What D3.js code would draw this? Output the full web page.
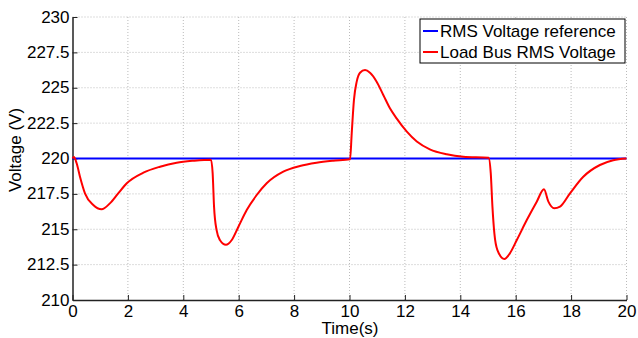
<!DOCTYPE html>
<html>
<head>
<meta charset="utf-8">
<script src="https://cdn.jsdelivr.net/npm/d3@7"></script>
<style>
  body { margin: 0; background: #fff; }
  svg { display: block; font-family: "Liberation Sans", Arial, sans-serif; }
</style>
</head>
<body>
<div id="chart"></div>
<script>
// Time (s) and voltage (V)
const refTime = [0, 20];
const refVolt = [220, 220];

const loadTime = [0, 0.05, 0.15, 0.27, 0.45, 0.75, 1.05, 1.35, 1.65, 1.96, 2.56, 3.16, 3.76, 4.36, 5.0,
  5.06, 5.11, 5.2, 5.32, 5.54, 5.75, 5.99, 6.29, 6.65, 7.01, 7.61, 8.21, 8.81, 9.41, 10.02,
  10.08, 10.16, 10.26, 10.38, 10.56, 10.74, 10.98, 11.22, 11.46, 11.7, 12.07, 12.43, 12.9, 13.51, 14.11, 15.02,
  15.1, 15.16, 15.23, 15.34, 15.59, 15.79, 16.04, 16.4, 16.76, 17.02,
  17.18, 17.39, 17.6, 17.96, 18.44, 19.04, 19.52, 20];
const loadVolt = [220, 220.1, 219.66, 218.71, 217.54, 216.71, 216.41, 216.83, 217.54, 218.25, 219.0, 219.42, 219.7, 219.84, 219.92,
  218.95, 216.6, 214.95, 214.24, 213.9, 214.24, 215.18, 216.36, 217.42, 218.25, 219.07, 219.47, 219.7, 219.84, 219.94,
  221.78, 224.13, 225.43, 226.06, 226.25, 226.06, 225.43, 224.49, 223.55, 222.84, 221.9, 221.2, 220.65, 220.3, 220.13, 220.06,
  218.95, 216.6, 214.71, 213.53, 212.9, 213.3, 214.24, 215.65, 216.95, 217.82,
  216.95, 216.48, 216.6, 217.54, 218.71, 219.54, 219.88, 220];

const xTicks = [0, 2, 4, 6, 8, 10, 12, 14, 16, 18, 20];
const yTicks = [210, 212.5, 215, 217.5, 220, 222.5, 225, 227.5, 230];

const seriesNames = ["RMS Voltage reference", "Load Bus RMS Voltage"];
const seriesColors = ["#0000ff", "#ff0000"];

const W = 638, H = 338;
const margin = { top: 17, right: 11.5, bottom: 38, left: 72.5 };
const width = W - margin.left - margin.right;
const height = H - margin.top - margin.bottom;
const fontSize = "17px";

const svg = d3.select("#chart").append("svg")
  .attr("width", W).attr("height", H);
const g = svg.append("g")
  .attr("transform", "translate(" + margin.left + "," + margin.top + ")");

const x = d3.scaleLinear().domain([0, 20]).range([0, width]);
const y = d3.scaleLinear().domain([210, 230]).range([height, 0]);

// dotted grid
g.append("g").selectAll("line").data(xTicks.slice(1)).enter().append("line")
  .attr("x1", d => x(d)).attr("x2", d => x(d))
  .attr("y1", 0).attr("y2", height)
  .attr("stroke", "#bbb").attr("stroke-width", 1).attr("stroke-dasharray", "1,2");
g.append("g").selectAll("line").data(yTicks.slice(1)).enter().append("line")
  .attr("x1", 0).attr("x2", width)
  .attr("y1", d => y(d)).attr("y2", d => y(d))
  .attr("stroke", "#bbb").attr("stroke-width", 1).attr("stroke-dasharray", "1,2");

// axes, ticks pointing inward
const xAxis = d3.axisBottom(x).tickValues(xTicks).tickFormat(d3.format("d"))
  .tickSizeInner(-5).tickSizeOuter(0).tickPadding(5);
const yAxis = d3.axisLeft(y).tickValues(yTicks).tickFormat(d => String(d))
  .tickSizeInner(-5).tickSizeOuter(0).tickPadding(3);

const gx = g.append("g").attr("transform", "translate(0," + height + ")").call(xAxis);
const gy = g.append("g").call(yAxis);
[gx, gy].forEach(a => {
  a.select(".domain").attr("stroke", "#222").attr("stroke-width", 1.5);
  a.selectAll(".tick line").attr("stroke", "#222");
  a.selectAll("text").attr("fill", "#000").style("font-size", fontSize)
    .style("font-family", "'Liberation Sans', Arial, sans-serif");
});
gy.selectAll("text").attr("dy", "0.3em");

// lines
const line = d3.line().x(d => x(d[0])).y(d => y(d[1])).curve(d3.curveMonotoneX);
g.append("path")
  .datum(refTime.map((t, i) => [t, refVolt[i]]))
  .attr("d", line).attr("fill", "none")
  .attr("stroke", seriesColors[0]).attr("stroke-width", 2);
g.append("path")
  .datum(loadTime.map((t, i) => [t, loadVolt[i]]))
  .attr("d", line).attr("fill", "none")
  .attr("stroke", seriesColors[1]).attr("stroke-width", 2);

// axis labels
svg.append("text")
  .attr("x", 350).attr("y", 334)
  .attr("text-anchor", "middle").style("font-size", fontSize)
  .text("Time(s)");
svg.append("text")
  .attr("transform", "translate(21,150) rotate(-90)")
  .attr("text-anchor", "middle").style("font-size", fontSize)
  .text("Voltage (V)");

// legend
const legend = svg.append("g").attr("transform", "translate(420,19)");
legend.append("rect")
  .attr("width", 205).attr("height", 44)
  .attr("fill", "#fff").attr("stroke", "#000").attr("stroke-width", 1);
seriesNames.forEach((name, i) => {
  const ly = 12 + i * 21;
  legend.append("line")
    .attr("x1", 3).attr("x2", 18).attr("y1", ly).attr("y2", ly)
    .attr("stroke", seriesColors[i]).attr("stroke-width", 2);
  legend.append("text")
    .attr("x", 20).attr("y", ly).attr("dy", "0.36em")
    .style("font-size", fontSize).text(name);
});
</script>
</body>
</html>
